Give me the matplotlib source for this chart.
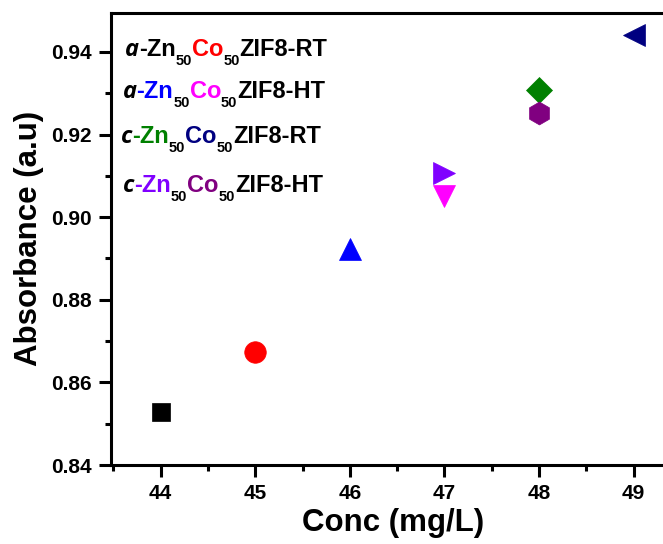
import matplotlib
matplotlib.use("Agg")
import matplotlib.pyplot as plt
from matplotlib import transforms
from matplotlib.ticker import MultipleLocator, FormatStrFormatter

# concentration (mg/L) vs absorbance for each sample point
conc = [44, 45, 46, 47, 47, 48, 48, 49]
absorbance = [0.8528, 0.8673, 0.8923, 0.9051, 0.9108, 0.9307, 0.9252, 0.9440]
markers = ['s', 'o', '^', 'v', '>', 'D', 'h', '<']
colors = ['black', 'red', 'blue', '#FF00FF', '#8000FF', '#008000', '#800080', '#000080']
sizes = [13.5, 15.5, 16, 16, 16, 13.5, 16.5, 16.5]

# sample labels: (text, colour, kind) pieces; kind: it = italic prefix, sub = subscript
labels = [
    [('a', 'black', 'it'), ('-Zn', 'black', ''), ('50', 'black', 'sub'),
     ('Co', 'red', ''), ('50', 'black', 'sub'), ('ZIF8-RT', 'black', '')],
    [('a', 'black', 'it'), ('-Zn', 'blue', ''), ('50', 'black', 'sub'),
     ('Co', '#FF00FF', ''), ('50', 'black', 'sub'), ('ZIF8-HT', 'black', '')],
    [('c', 'black', 'it'), ('-Zn', '#008000', ''), ('50', 'black', 'sub'),
     ('Co', '#000080', ''), ('50', 'black', 'sub'), ('ZIF8-RT', 'black', '')],
    [('c', 'black', 'it'), ('-Zn', '#8000FF', ''), ('50', 'black', 'sub'),
     ('Co', '#800080', ''), ('50', 'black', 'sub'), ('ZIF8-HT', 'black', '')],
]
label_x = [0.025, 0.021, 0.018, 0.021]
label_y = [0.905, 0.811, 0.712, 0.604]

plt.rcParams['font.family'] = ['Liberation Sans', 'DejaVu Sans']
plt.rcParams['font.weight'] = 'bold'

fig = plt.figure(figsize=(6.63, 5.44), dpi=100)
ax = fig.add_axes([0.1674, 0.1452, 0.8326, 0.8315])

for x, y, m, c, s in zip(conc, absorbance, markers, colors, sizes):
    ax.plot(x, y, marker=m, color=c, markersize=s, markeredgewidth=0.5,
            linestyle='none', clip_on=False)

ax.set_xlim(43.475, 49.31)
ax.set_ylim(0.84, 0.9495)
ax.xaxis.set_major_locator(MultipleLocator(1))
ax.xaxis.set_minor_locator(MultipleLocator(0.5))
ax.yaxis.set_major_locator(MultipleLocator(0.02))
ax.yaxis.set_minor_locator(MultipleLocator(0.01))
ax.xaxis.set_major_formatter(FormatStrFormatter('%d'))
ax.yaxis.set_major_formatter(FormatStrFormatter('%.2f'))

for side in ['left', 'bottom', 'top']:
    ax.spines[side].set_linewidth(2.2)
ax.spines['right'].set_visible(False)
ax.tick_params(which='major', direction='out', length=8.5, width=2.2,
               labelsize=15, pad=5)
ax.tick_params(which='minor', direction='out', length=4.5, width=2.2)
ax.tick_params(top=False, right=False, which='both')
for lab in ax.get_xticklabels() + ax.get_yticklabels():
    lab.set_fontweight('bold')

ax.set_xlabel('Conc (mg/L)', fontsize=22.5, fontweight='bold')
ax.set_ylabel('Absorbance (a.u)', fontsize=22.5, fontweight='bold')
ax.xaxis.set_label_coords(0.511, -0.094)
ax.yaxis.set_label_coords(-0.122, 0.5)

# multicolour sample names built piece by piece
renderer = fig.canvas.get_renderer()
for pieces, lx, ly in zip(labels, label_x, label_y):
    dx = 0
    for s, c, kind in pieces:
        size = 10.5 if kind == 'sub' else 17
        dy = -9 if kind == 'sub' else 0
        fam = ['Open Sans', 'DejaVu Sans'] if kind == 'it' else ['Liberation Sans']
        tr = transforms.offset_copy(ax.transAxes, fig=fig, x=dx, y=dy, units='dots')
        t = ax.text(lx, ly, s, color=c, fontsize=size, fontweight='bold',
                    style='italic' if kind == 'it' else 'normal', family=fam,
                    transform=tr, ha='left', va='baseline')
        dx += t.get_window_extent(renderer).width

fig.savefig('out.png', dpi=100)
